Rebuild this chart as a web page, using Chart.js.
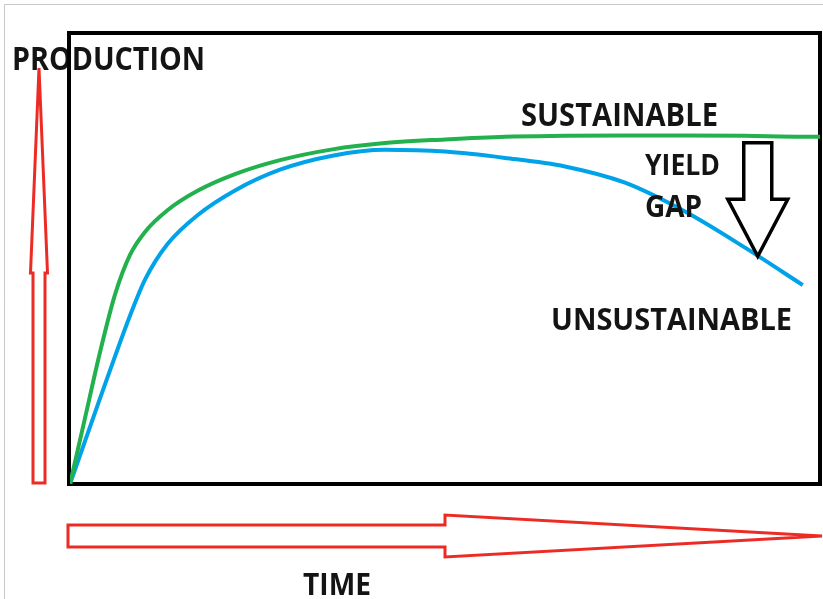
<!DOCTYPE html>
<html>
<head>
<meta charset="utf-8">
<script src="https://cdn.jsdelivr.net/npm/chart.js@4.4.0/dist/chart.umd.min.js"></script>
<style>
    body { margin: 0; background: #fff; }
    #wrap { width: 823px; height: 599px; position: relative; }
</style>
</head>
<body>
<div id="wrap"><canvas id="yield-chart" width="823" height="599"></canvas></div>
<script>
// time axis (0..100) and production (0..100)
const timeSteps = [0, 2, 4, 6, 8, 10, 13, 17, 22, 28, 35, 42, 50, 58, 66, 74, 82, 90, 97.7, 100];
const sustainable = [0, 14.6, 29.2, 42, 50.8, 55.9, 60.7, 65, 68.7, 71.8, 74.2, 75.6, 76.4, 77, 77.2, 77.3, 77.3, 77.2, 77, 77];
const unsustainable = [0, 9.5, 19, 28.3, 37.3, 45.3, 53.2, 59.6, 65.1, 69.7, 72.8, 74.1, 73.7, 72.3, 70.4, 66.8, 60.4, 52.4, 44.1, null];
const seriesLabels = ["SUSTAINABLE", "UNSUSTAINABLE"];
const gapLabel = ["YIELD", "GAP"];
const axisLabels = { y: "PRODUCTION", x: "TIME" };
const gapTime = 91.7;

const RED = "#ec2c24";
const INK = "#141414";

function toPoints(values) {
    return timeSteps.map((t, i) => ({ x: t, y: values[i] }));
}

// draw bold text squeezed into a box (cap height = box height)
function fitText(ctx, text, left, top, right, bottom) {
    const size = (bottom - top) / 0.714;
    ctx.font = `bold ${size}px "Open Sans"`;
    const w = ctx.measureText(text).width;
    ctx.save();
    ctx.translate(left, bottom);
    ctx.scale((right - left) / w, 1);
    ctx.fillStyle = INK;
    ctx.textBaseline = "alphabetic";
    ctx.textAlign = "left";
    ctx.fillText(text, 0, 0);
    ctx.restore();
}

function outline(ctx, pts, color, width) {
    ctx.save();
    ctx.beginPath();
    pts.forEach(([x, y], i) => (i === 0 ? ctx.moveTo(x, y) : ctx.lineTo(x, y)));
    ctx.closePath();
    ctx.lineWidth = width;
    ctx.strokeStyle = color;
    ctx.lineJoin = "miter";
    ctx.stroke();
    ctx.restore();
}

const sketchPlugin = {
    id: "sketch",
    beforeDatasetsDraw(chart) {
        const ctx = chart.ctx;
        const a = chart.chartArea;

        // light frame of the original picture
        ctx.save();
        ctx.strokeStyle = "#c8c8c8";
        ctx.lineWidth = 1;
        ctx.beginPath();
        ctx.moveTo(4.5, chart.height);
        ctx.lineTo(4.5, 4.5);
        ctx.lineTo(chart.width, 4.5);
        ctx.stroke();
        ctx.restore();

        fitText(ctx, axisLabels.y, 12, 47, 205, 70);

        ctx.save();
        ctx.strokeStyle = "#000";
        ctx.lineWidth = 4;
        ctx.strokeRect(a.left - 1, a.top, a.right - a.left + 1, a.bottom - a.top);
        ctx.restore();
    },
    afterDatasetsDraw(chart) {
        const ctx = chart.ctx;
        const a = chart.chartArea;
        const xs = chart.scales.x;
        const ys = chart.scales.y;

        // red axis arrows
        const cx = a.left - 31;
        outline(ctx, [
            [cx, 68], [cx + 8.5, 273], [cx + 6, 273], [cx + 6, a.bottom - 1],
            [cx - 6, a.bottom - 1], [cx - 6, 273], [cx - 8.5, 273]
        ], RED, 3);
        const cy = 536;
        outline(ctx, [
            [a.left - 2, cy - 11], [445, cy - 11], [445, cy - 21], [chart.width - 1, cy],
            [445, cy + 21], [445, cy + 11], [a.left - 2, cy + 11]
        ], RED, 3);

        fitText(ctx, axisLabels.x, 303, 573, 371, 595);

        // curve labels
        fitText(ctx, seriesLabels[0], 521, 103, 718, 126);
        fitText(ctx, seriesLabels[1], 551, 308, 792, 330);
        fitText(ctx, gapLabel[0], 645, 154, 720, 175);
        fitText(ctx, gapLabel[1], 645, 195, 702, 217);

        // yield gap arrow from the sustainable level down to the unsustainable curve
        const gx = xs.getPixelForValue(gapTime);
        const top = ys.getPixelForValue(77) + 6;
        const tip = ys.getPixelForValue(50.5);
        const neck = tip - 57;
        outline(ctx, [
            [gx - 14, top], [gx + 14, top], [gx + 14, neck], [gx + 30, neck],
            [gx, tip], [gx - 30, neck], [gx - 14, neck]
        ], "#000", 3.5);
    }
};

new Chart(document.getElementById("yield-chart").getContext("2d"), {
    type: "line",
    data: {
        datasets: [
            {
                label: seriesLabels[0],
                data: toPoints(sustainable),
                borderColor: "#22b14c",
                borderWidth: 4,
                pointRadius: 0,
                cubicInterpolationMode: "monotone",
            },
            {
                label: seriesLabels[1],
                data: toPoints(unsustainable),
                borderColor: "#00a2e8",
                borderWidth: 4,
                pointRadius: 0,
                cubicInterpolationMode: "monotone",
            },
        ],
    },
    plugins: [sketchPlugin],
    options: {
        responsive: false,
        animation: false,
        layout: { padding: { left: 70, top: 33, right: 3, bottom: 115 } },
        scales: {
            x: { type: "linear", min: 0, max: 100, display: false },
            y: { min: 0, max: 100, display: false },
        },
        plugins: {
            legend: { display: false },
            tooltip: { enabled: false },
        },
    },
});
</script>
</body>
</html>
